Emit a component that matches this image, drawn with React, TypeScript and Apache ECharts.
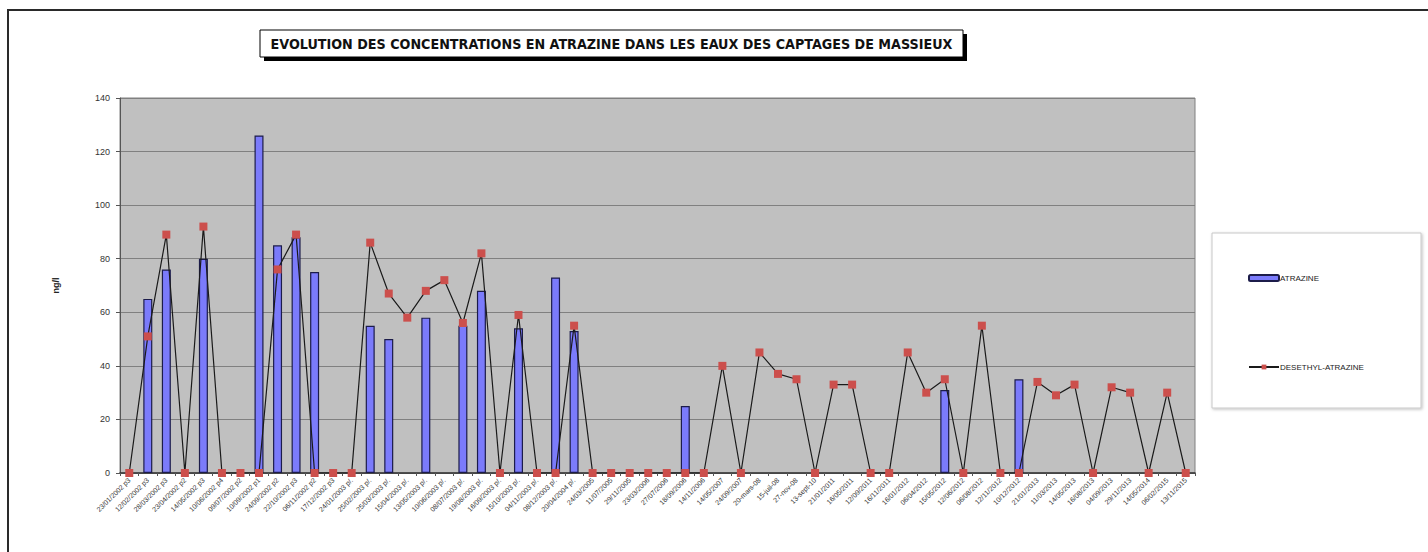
import React, { useEffect, useRef } from "react";
import * as echarts from "echarts";

const categories: string[] = [
  "23/01/2002 p3", "12/02/2002 p3", "28/03/2002 p3", "23/04/2002 p2", "14/05/2002 p3",
  "10/06/2002 p4", "09/07/2002 p2", "10/09/2002 p1", "24/09/2002 p2", "22/10/2002 p3",
  "06/11/2002 p2", "17/12/2002 p3", "24/01/2003 p/.", "25/02/2003 p/.", "25/03/2003 p/.",
  "15/04/2003 p/.", "13/05/2003 p/.", "10/06/2003 p/.", "08/07/2003 p/.", "19/08/2003 p/.",
  "16/09/2003 p/.", "15/10/2003 p/.", "04/11/2003 p/.", "08/12/2003 p/.", "20/04/2004 p/.",
  "24/03/2005", "11/07/2005", "29/11/2005", "23/03/2006", "27/07/2006",
  "18/09/2006", "14/11/2006", "14/05/2007", "24/09/2007", "20-mars-08",
  "15-juil-08", "27-nov-08", "13-sept-10", "21/01/2011", "16/05/2011",
  "12/09/2011", "16/11/2011", "16/01/2012", "06/04/2012", "15/05/2012",
  "12/06/2012", "06/08/2012", "12/11/2012", "10/12/2012", "21/01/2013",
  "11/03/2013", "14/05/2013", "16/08/2013", "04/09/2013", "29/11/2013",
  "14/05/2014", "06/02/2015", "13/11/2015",
];

const atrazine: (number | null)[] = [
  null, 65, 76, null, 80, null, null, 126, 85, 88,
  75, null, null, 55, 50, null, 58, null, 55, 68,
  null, 54, null, 73, 53, null, null, null, null, null,
  25, null, null, null, null, null, null, null, null, null,
  null, null, null, null, 31, null, null, null, 35, null,
  null, null, null, null, null, null, null, null,
];

const desethylAtrazine: number[] = [
  0, 51, 89, 0, 92, 0, 0, 0, 76, 89,
  0, 0, 0, 86, 67, 58, 68, 72, 56, 82,
  0, 59, 0, 0, 55, 0, 0, 0, 0, 0,
  0, 0, 40, 0, 45, 37, 35, 0, 33, 33,
  0, 0, 45, 30, 35, 0, 55, 0, 0, 34,
  29, 33, 0, 32, 30, 0, 30, 0,
];

const titleText = "EVOLUTION DES CONCENTRATIONS EN ATRAZINE DANS LES EAUX DES CAPTAGES DE MASSIEUX";
const yAxisName = "ng/l";

export default function App() {
  const ref = useRef<HTMLDivElement>(null);
  useEffect(() => {
    if (!ref.current) return;
    const chart = echarts.init(ref.current, undefined, { renderer: "svg" });
    const font = "'Liberation Sans', Arial, sans-serif";
    chart.setOption({
      animation: false,
      backgroundColor: "#ffffff",
      textStyle: { fontFamily: font },
      grid: {
        left: 120,
        right: 233,
        top: 98,
        bottom: 79,
        show: true,
        backgroundColor: "#c0c0c0",
        borderColor: "#808080",
        borderWidth: 1,
        containLabel: false,
      },
      graphic: [
        {
          type: "rect",
          shape: { x: 8, y: 10, width: 1440, height: 560 },
          style: { fill: "none", stroke: "#2a2a2a", lineWidth: 2 },
          silent: true,
        },
        {
          type: "rect",
          shape: { x: 264, y: 34, width: 703, height: 27 },
          style: { fill: "#000000" },
          silent: true,
        },
        {
          type: "rect",
          shape: { x: 260, y: 30, width: 703, height: 27 },
          style: { fill: "#ffffff", stroke: "#000000", lineWidth: 1 },
          silent: true,
        },
        {
          type: "text",
          x: 611.5,
          y: 44,
          style: {
            text: titleText,
            fill: "#111111",
            font: "bold 14.2px 'DejaVu Sans Condensed', sans-serif",
            align: "center",
            verticalAlign: "middle",
          },
          silent: true,
        },
        {
          type: "rect",
          shape: { x: 1212, y: 233, width: 209, height: 175 },
          style: {
            fill: "#ffffff",
            stroke: "#c8c8c8",
            lineWidth: 1,
            shadowBlur: 3,
            shadowColor: "rgba(0,0,0,0.25)",
            shadowOffsetX: 1,
            shadowOffsetY: 1,
          },
          silent: true,
          z: -1,
        },
      ],
      legend: {
        orient: "vertical",
        left: 1248,
        top: 274,
        padding: 0,
        itemGap: 81,
        itemWidth: 30,
        itemHeight: 6,
        textStyle: { fontSize: 8, color: "#222", fontFamily: font, padding: [0, 0, 0, -4] },
        data: ["ATRAZINE", "DESETHYL-ATRAZINE"],
      },
      xAxis: {
        type: "category",
        data: categories,
        boundaryGap: true,
        axisLine: { lineStyle: { color: "#333", width: 1.5 } },
        axisTick: { show: true, length: 3, lineStyle: { color: "#555" } },
        axisLabel: {
          rotate: 45,
          interval: 0,
          fontSize: 7,
          color: "#333",
          margin: 6,
          fontFamily: font,
        },
        splitLine: { show: false },
      },
      yAxis: {
        type: "value",
        min: 0,
        max: 140,
        interval: 20,
        name: yAxisName,
        nameLocation: "middle",
        nameGap: 60,
        nameRotate: 90,
        nameTextStyle: { fontSize: 9, fontWeight: "bold", color: "#222" },
        axisLine: { show: true, lineStyle: { color: "#555" } },
        axisTick: { show: true, length: 4, lineStyle: { color: "#555" } },
        axisLabel: { fontSize: 9, color: "#333", margin: 10, fontFamily: font },
        splitLine: { show: true, lineStyle: { color: "#808080", width: 1 } },
      },
      series: [
        {
          name: "ATRAZINE",
          type: "bar",
          data: atrazine,
          barWidth: 9,
          itemStyle: { color: "#7b7bfb", borderColor: "#1c1c4a", borderWidth: 1.2 },
        },
        {
          name: "DESETHYL-ATRAZINE",
          type: "line",
          data: desethylAtrazine,
          symbol: "rect",
          symbolSize: 8,
          lineStyle: { color: "#1a1a1a", width: 1.2 },
          itemStyle: { color: "#cc4f4c" },
          z: 3,
        },
      ],
    });
    return () => chart.dispose();
  }, []);
  return (
    <div
      ref={ref}
      style={{ position: "fixed", left: 0, top: 0, width: 1428, height: 552 }}
    />
  );
}
